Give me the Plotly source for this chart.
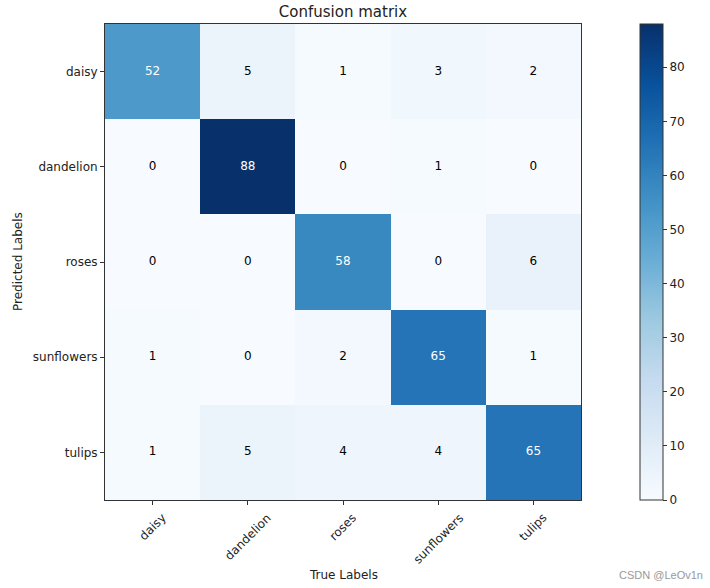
import plotly.graph_objects as go

labels = ["daisy", "dandelion", "roses", "sunflowers", "tulips"]
# rows = predicted labels, columns = true labels
matrix = [
    [52, 5, 1, 3, 2],
    [0, 88, 0, 1, 0],
    [0, 0, 58, 0, 6],
    [1, 0, 2, 65, 1],
    [1, 5, 4, 4, 65],
]
colorbar_ticks = [0, 10, 20, 30, 40, 50, 60, 70, 80]

blues = ["#f7fbff", "#deebf7", "#c6dbef", "#9ecae1", "#6baed6",
         "#4292c6", "#2171b5", "#08519c", "#08306b"]
colorscale = [[i / (len(blues) - 1), c] for i, c in enumerate(blues)]

zmax = max(max(r) for r in matrix)
thresh = zmax / 2.0

W, H = 710, 588
L, R, T, B = 105, 129, 24, 88
PW, PH = W - L - R, H - T - B

fig = go.Figure()
fig.add_trace(go.Heatmap(
    z=matrix, x=labels, y=labels,
    colorscale=colorscale, zmin=0, zmax=zmax,
    xgap=0, ygap=0, hoverongaps=False,
    colorbar=dict(
        x=(640 - L) / PW, xanchor="left", xref="paper",
        y=0.5, yanchor="middle", len=1.0, lenmode="fraction",
        xpad=0, ypad=0,
        thickness=23, outlinewidth=1, outlinecolor="#333",
        tickvals=colorbar_ticks, ticks="outside", ticklen=4,
        tickcolor="#333", tickfont=dict(size=12, color="#222"),
    ),
))

tx, ty, tt, tc = [], [], [], []
for i, row in enumerate(matrix):
    for j, v in enumerate(row):
        tx.append(labels[j])
        ty.append(labels[i])
        tt.append(str(v))
        tc.append("white" if v > thresh else "black")
fig.add_trace(go.Scatter(
    x=tx, y=ty, mode="text", text=tt,
    textfont=dict(size=12, color=tc, family="DejaVu Sans"),
    showlegend=False, hoverinfo="skip",
))

fig.update_layout(
    width=W, height=H,
    margin=dict(l=L, r=R, t=T, b=B, autoexpand=False),
    paper_bgcolor="white", plot_bgcolor="white",
    font=dict(family="DejaVu Sans", size=12, color="#222"),
    title=dict(text="Confusion matrix", x=0.5, xref="paper",
               y=1 - 12 / H, yref="container", yanchor="middle",
               font=dict(size=15, color="#222", family="DejaVu Sans")),
    showlegend=False,
)
fig.update_xaxes(
    type="category", categoryorder="array", categoryarray=labels,
    showticklabels=False, ticks="outside", ticklen=4, tickcolor="#333",
    showline=True, linecolor="#333", linewidth=1, mirror=True,
    showgrid=False, zeroline=False, automargin=False,
    range=[-0.5, 4.5],
)
fig.update_yaxes(
    type="category", categoryorder="array", categoryarray=labels,
    ticks="outside", ticklen=4, tickcolor="#333",
    showline=True, linecolor="#333", linewidth=1, mirror=True,
    showgrid=False, zeroline=False, automargin=False,
    range=[4.5, -0.5],
)
# rotated x tick labels, centred under each tick (matplotlib style)
for lab in labels:
    fig.add_annotation(text=lab, x=lab, xref="x", yref="paper",
                       y=-(508 - (H - B)) / PH, textangle=-45,
                       xanchor="center", yanchor="top", showarrow=False,
                       font=dict(size=12, color="#222"))
fig.add_annotation(text="True Labels", xref="paper", yref="paper",
                   x=0.5, y=-(575 - (H - B)) / PH, showarrow=False,
                   xanchor="center", yanchor="middle",
                   font=dict(size=12, color="#222"))
fig.add_annotation(text="Predicted Labels", xref="paper", yref="paper",
                   x=(18 - L) / PW, y=0.5, textangle=-90, showarrow=False,
                   xanchor="center", yanchor="middle",
                   font=dict(size=12, color="#222"))
fig.add_annotation(text="CSDN @LeOv1n", xref="paper", yref="paper",
                   x=(705 - L) / PW, y=-(575 - (H - B)) / PH, showarrow=False,
                   xanchor="right", yanchor="middle",
                   font=dict(size=11, color="#999", family="Liberation Sans"))

fig.write_html("out.html", config={"displayModeBar": False},
               post_script="document.body.style.margin='0';")
